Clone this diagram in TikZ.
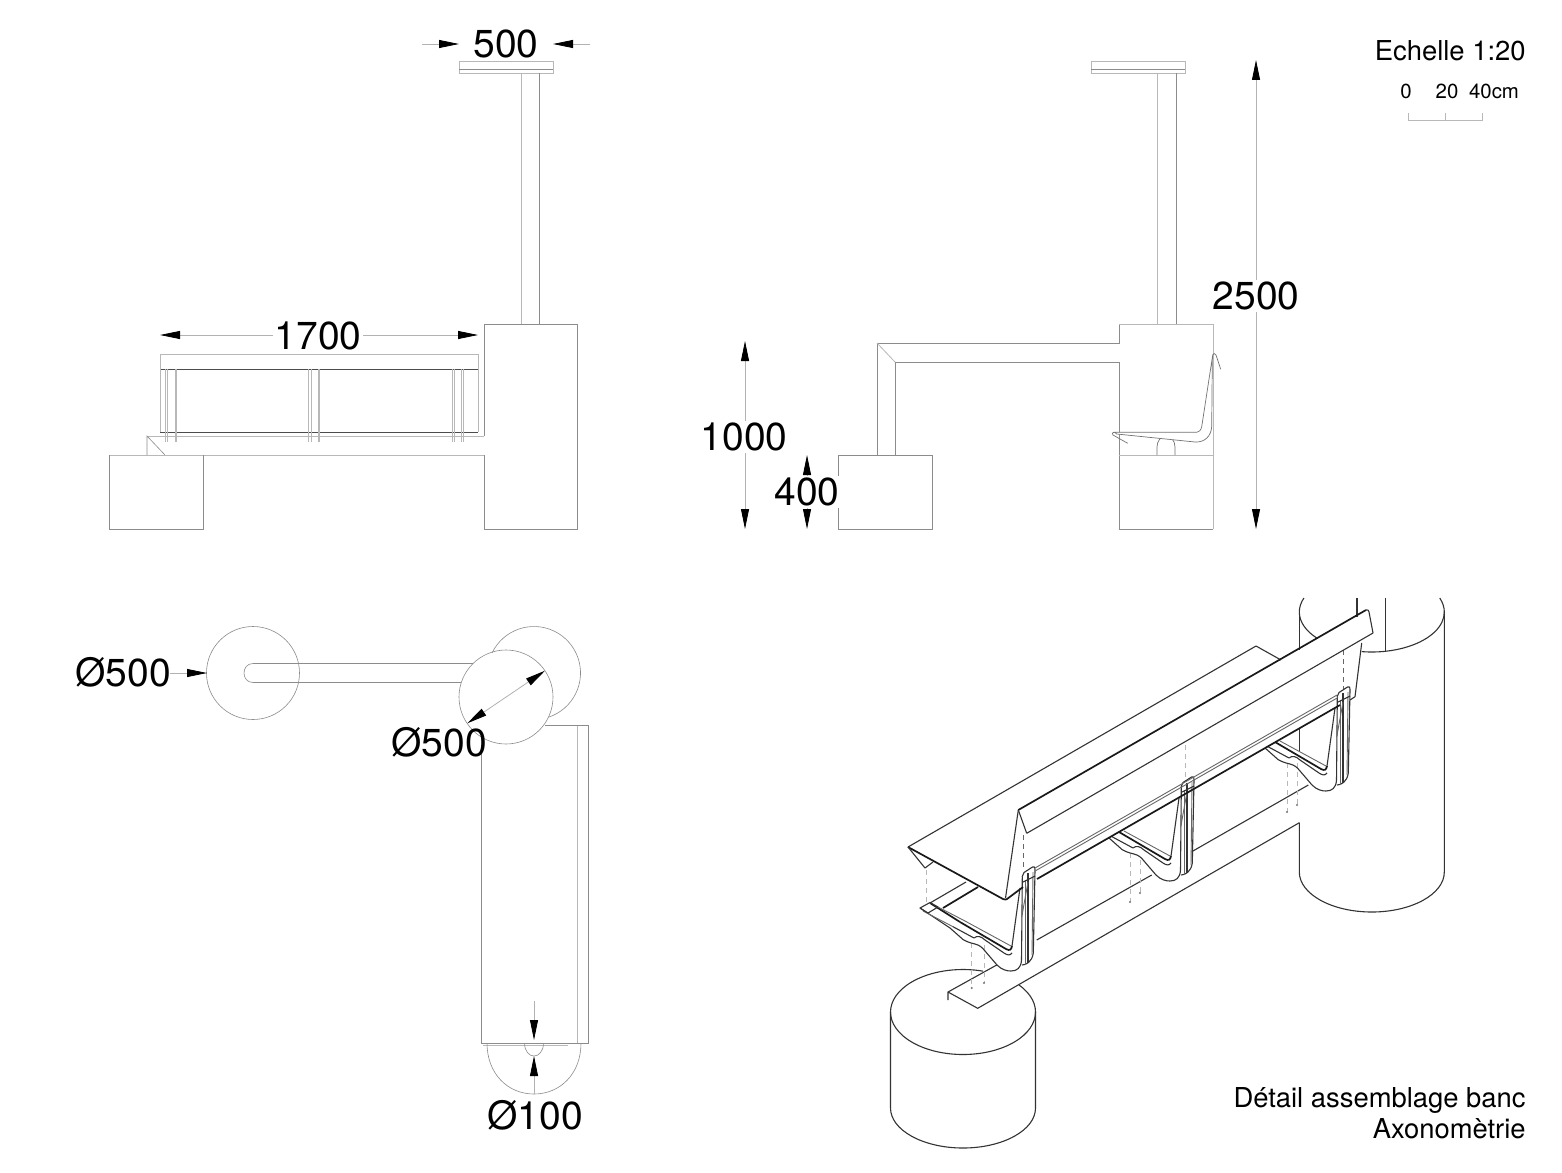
\documentclass[tikz,border=0pt]{standalone}
\usepackage{fontspec}
\setmainfont{TeX Gyre Heros}
\usetikzlibrary{arrows.meta}
\tikzset{
  elev/.style={draw=black!45,line width=0.3pt},
  elevlight/.style={draw=black!28,line width=0.4pt},
  elevdark/.style={draw=black!70,line width=0.35pt},
  prof/.style={draw=black!55,line width=0.35pt},
  dimline/.style={draw=black!30,line width=0.4pt},
  tri/.tip={Triangle[length=10pt,width=4pt,black]},
  dimtext/.style={font=\fontsize{19.5pt}{22pt}\selectfont,inner sep=1pt,fill=white},
  dimfree/.style={font=\fontsize{19.5pt}{22pt}\selectfont,inner sep=1pt},
  small/.style={font=\fontsize{13.7pt}{16pt}\selectfont,inner sep=0pt,anchor=base east},
  tiny/.style={font=\fontsize{10.2pt}{12pt}\selectfont,inner sep=0pt,anchor=base},
  axo/.style={draw=black!80,line width=0.55pt,line join=round},
  axothick/.style={draw=black!90,line width=0.85pt,line join=round},
  axofine/.style={draw=black!60,line width=0.45pt,line join=round},
  guide/.style={draw=black!28,line width=0.4pt,dash pattern=on 2.5pt off 2pt},
  guidedark/.style={draw=black!60,line width=0.4pt,dash pattern=on 2.5pt off 2pt},
}
\newcommand{\bracketU}{%
  % inner arm and back strut
  \draw[axothick] (1275,742)--(1321,769) .. controls (1325,771) and (1326,770) .. (1327,766);
  \draw[axo] (1327,766)--(1335,708);
  \draw[axofine] (1280,741)--(1326,766);
  % outer curve with slight wave
  \draw[axo] (1265,748)--(1278,759.5) .. controls (1282,762) and (1286,763) .. (1290,764) .. controls (1294,765) and (1297,767) .. (1300,771)--(1312,785) .. controls (1317,790) and (1322,791) .. (1326,791) .. controls (1332,791) and (1336,788) .. (1336.5,780)--(1337.3,697);
  \draw[axo] (1268,746.7)--(1289,758) .. controls (1292,755.5) and (1296,756) .. (1300,760)--(1319,773) .. controls (1322,775) and (1325,776) .. (1327,773);
  % back plate
  \draw[axo] (1337,785) .. controls (1341,785) and (1347,782) .. (1348.3,773)--(1350,690) .. controls (1350,687) and (1349,686) .. (1347.5,687)--(1339,692.5)--(1337,697);
  \draw[axo] (1343,693)--(1343,783);
  \draw[axofine] (1340,700)--(1340,785);
  \draw[axofine] (1348,692)--(1347,775);
  \draw[axofine] (1336.7,737)--(1343,702);
  \draw[axo] (1338,702)--(1350,696);
}
\begin{document}
\begin{tikzpicture}[x=0.5pt,y=-0.5pt]
\useasboundingbox (0,0) rectangle (1562,1172);
\fill[white] (0,0) rectangle (1562,1172);

%% ---------- front elevation ----------
\draw[elevlight] (459,61) rectangle (553,73);
\draw[elev] (459,69)--(553,69);
\draw[elevlight] (521,73)--(521,324);
\draw[elev] (539,73)--(539,324);
\draw[elev] (484,436)--(484,324)--(577,324)--(577,529)--(484,529)--(484,455);
\draw[elevlight] (109,455)--(484,455);
\draw[elev] (203,455)--(203,529)--(109,529)--(109,455);
\draw[elevlight] (147,436)--(484,436);
\draw[elev] (147,455)--(147,436)--(165,455);
\draw[elevlight] (160,354) rectangle (478,369);
\draw[elevdark] (160,369)--(478,369);
\draw[elevdark] (160,432)--(478,432);
\draw[elevlight] (160,369)--(160,432) (478,369)--(478,432);
\foreach \xa/\xb in {165/167,175/176,308/311,318/319,452/454,461/463}{
  \draw[elevlight] (\xa,369)--(\xa,442) (\xb,369)--(\xb,442);
}

%% ---------- side elevation ----------
\draw[elevlight] (1091,61) rectangle (1185,73);
\draw[elev] (1091,69)--(1185,69);
\draw[elevlight] (1157,73)--(1157,324);
\draw[elev] (1176,73)--(1176,324);
\draw[elev] (1119,529)--(1119,362)--(895,362)--(895,455);
\draw[elev] (877,455)--(877,343)--(1119,343)--(1119,324);
\draw[elevlight] (877,343)--(895,362);
\draw[elevlight] (1119,324)--(1213,324)--(1213,529);
\draw[elev] (1213,529)--(1119,529);
\draw[elevlight] (1119,455)--(1213,455);
\draw[elev] (838,529) rectangle (932,455);
\draw[prof] (1157,455)--(1157,447) .. controls (1157,441) and (1161,436) .. (1166,436) .. controls (1171,436) and (1175,441) .. (1175,447)--(1175,455);
\draw[fill=white,prof] (1116.7,434)--(1195,442) .. controls (1205,442.5) and (1211,436) .. (1211.7,426.7)--(1212.3,360)--(1212.7,355)--(1201.7,426.7) .. controls (1201,430) and (1199,432.3) .. (1196.7,432.3)--(1115,432.3)--cycle;
\draw[prof] (1127.7,443.3)--(1113,435) .. controls (1111.5,434) and (1112,432.3) .. (1115,432.3);
\draw[prof] (1212.7,355) .. controls (1213,353) and (1215,353) .. (1216,355)--(1220.7,369.3);

%% ---------- plan ----------
\draw[elev] (253,673) circle[radius=46.5];
\draw[elev] (534,673) ++(205.6:46.5) arc[start angle=205.6,end angle=432.2,radius=46.5];
\draw[elev] (506,697) circle[radius=47];
\draw[elev] (473,663.5)--(253,663.5) .. controls (241,663.5) and (241,682.5) .. (253,682.5)--(461,682.5);
\draw[elev] (545,725.5)--(588.5,725.5)--(588.5,1043)--(481,1043)--(481,745);
\draw[elevlight] (577.5,725.5)--(577.5,1043);
\draw[elevlight] (483,1045)--(568,1045);
\draw[elev] (487,1043) .. controls (487,1074) and (508,1094) .. (534,1094) .. controls (560,1094) and (581,1074) .. (581,1043);
\draw[elev] (524.5,1043) .. controls (524.5,1051) and (529,1056) .. (534,1056) .. controls (539,1056) and (543.5,1051) .. (543.5,1043);

%% ---------- axonometric ----------
% left cylinder
\draw[axo] (963,1012) ++(320.6:72.5 and 42.5) arc[start angle=320.6,end angle=646,x radius=72.5,y radius=42.5];
\draw[axo] (890.5,1012)--(890.5,1108) arc[start angle=180,end angle=0,x radius=72.5,y radius=40]--(1035.5,1012);
% right cylinder
\draw[axo] (1299.3,612) arc[start angle=180,end angle=200.5,x radius=72.5,y radius=40];
\draw[axo] (1444.3,612) arc[start angle=0,end angle=-20.5,x radius=72.5,y radius=40];
\draw[axo] (1299.3,612) arc[start angle=180,end angle=139,x radius=72.5,y radius=40];
\draw[axo] (1444.3,612) arc[start angle=0,end angle=98,x radius=72.5,y radius=40];
\draw[axo] (1299.3,612)--(1299.3,650);
\draw[axo] (1299.3,728)--(1299.3,752);
\draw[axo] (1444.3,612)--(1444.3,872) arc[start angle=0,end angle=180,x radius=72.5,y radius=40]--(1299.3,822.7);
\draw[axo] (1357,598)--(1357,617);
\draw[axo] (1385.7,598)--(1385.7,651.7);
% beam
\draw[axo] (948,1000)--(948,992)--(977.7,1008.3)--(1299.3,822.7);
\draw[axo] (948,992)--(996.7,965);
\draw[axo] (1036.7,940)--(1151.7,875);
\draw[axo] (1191.7,851.7)--(1308.3,785);
% assembly guides
\draw[guide] (926,870)--(926,902);
\draw[guidedark] (1023,835)--(1023,870);
\draw[guide] (1185,745)--(1185,780);
\draw[guidedark] (1343,650)--(1343,690);
\foreach \xa/\ya/\yb in {971.7/943/988,984/945/983,1130/853/902,1140/860/893,1287/763/812,1297/763/805}{
  \draw[guide] (\xa,\ya)--(\xa,\yb);
  \fill[black!55] (\xa,\yb) circle[radius=1.1];
}
% brackets
\bracketU
\begin{scope}[shift={(-156,90)}]\bracketU\end{scope}
\begin{scope}[shift={(-315,180)}]\bracketU\end{scope}
% front end of seat frame
\draw[axothick] (930,903)--(960,922);
\draw[axofine] (938,907)--(965,921);
\draw[axo] (920,908)--(950,928);
\draw[axofine] (923,911)--(953,926.7);
\draw[axo] (920,908)--(930,902.5)--(938,907)--(928,913)--cycle;
\draw[axo] (930,903)--(966,882);
\draw[axothick] (943,908)--(978,887);
% seat and backrest
\draw[axo] (908,847)--(1256,646)--(1281,660);
\draw[axothick] (908,847)--(1003,899) .. controls (1005,900) and (1006,899.5) .. (1007,899)--(1023,887);
\draw[axo] (908,847)--(925,868)--(933,862);
\draw[axo] (1018.3,810)--(1005.5,898);
\draw[axothick] (1018.3,810)--(1366,610);
\draw[axo] (1018.3,810)--(1026.7,833.3);
\draw[axo] (1026.7,833.3)--(1373,633);
\draw[axo] (1366,610) .. controls (1368,609.5) and (1368.5,610) .. (1369,612)--(1373,633);
\draw[axo] (1361.7,643)--(1355,696.7)--(1350,700);
% rails
\draw[axofine] (1035,868)--(1337,695);
\draw[axofine] (1036,870.5)--(1338,697.5);
\draw[axothick] (1037,879)--(1340,705);

%% ---------- dimensions ----------
\coordinate (a1) at (422,44); \coordinate (a2) at (459,44);
\coordinate (a3) at (590,44); \coordinate (a4) at (553,44);
\draw[dimline,-tri] (a1)--(a2);
\draw[dimline,-tri] (a3)--(a4);
\node[dimtext] (t500) at (506,44) {500};

\coordinate (b1) at (160,335); \coordinate (b2) at (478,335);
\draw[dimline,tri-tri] (b1)--(b2);
\node[dimtext] (t1700) at (318,336) {1700};

\coordinate (c1) at (1256,60); \coordinate (c2) at (1256,529);
\draw[dimline,tri-tri] (c1)--(c2);
\node[dimtext] (t2500) at (1256,296) {2500};

\coordinate (d1) at (745,341); \coordinate (d2) at (745,529);
\draw[dimline,tri-tri] (d1)--(d2);
\node[dimtext] (t1000) at (744,437) {1000};

\coordinate (e1) at (807,455); \coordinate (e2) at (807,529);
\draw[dimline,tri-tri] (e1)--(e2);
\node[dimtext] (t400) at (807,492) {400};

\coordinate (f1) at (170,673); \coordinate (f2) at (207,673);
\draw[dimline,-tri] (f1)--(f2);
\node[dimfree] (t5a) at (123,672) {Ø500};

\coordinate (g1) at (467.3,723.3); \coordinate (g2) at (545,670.7);
\draw[dimline,tri-tri] (g1)--(g2);
\node[dimfree] (t5b) at (439,742) {Ø500};

\coordinate (h1) at (534,1001); \coordinate (h2) at (534,1040);
\coordinate (h3) at (534,1094); \coordinate (h4) at (534,1056);
\draw[dimline,-tri] (h1)--(h2);
\draw[dimline,-tri] (h3)--(h4);
\node[dimfree] (t100) at (535,1115) {Ø100};

%% ---------- texts ----------
\node[small] (scale) at (1526,61) {Echelle 1:20};
\node[tiny] (s0) at (1406,98) {0};
\node[tiny] (s20) at (1447,98) {20};
\node[tiny] (s40) at (1494,98) {40cm};
\coordinate (k1) at (1408,113); \coordinate (k2) at (1408,120.5);
\coordinate (k3) at (1482,120.5); \coordinate (k4) at (1482,113);
\coordinate (k5) at (1445,113); \coordinate (k6) at (1445,120.5);
\draw[elevlight] (k1)--(k2)--(k3)--(k4) (k5)--(k6);
\node[small] (cap1) at (1526,1107) {Détail assemblage banc};
\node[small] (cap2) at (1526,1138) {Axonomètrie};
\end{tikzpicture}
\end{document}
